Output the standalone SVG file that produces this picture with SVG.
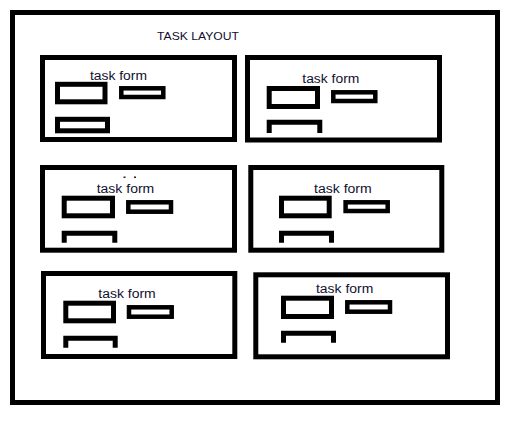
<svg xmlns="http://www.w3.org/2000/svg" width="527" height="424" viewBox="0 0 527 424">
<style>
.frame{fill:none;stroke:#000;stroke-width:5}
.box{fill:none;stroke:#000;stroke-width:5}
.fld{fill:none;stroke:#000;stroke-width:5}
.sfld{fill:none;stroke:#000;stroke-width:4.5}
.brk{fill:none;stroke:#000;stroke-width:5}
.lbl{font-family:"Liberation Sans",Arial,sans-serif;font-size:12.5px;fill:#101030}
.title{font-family:"Liberation Sans",Arial,sans-serif;font-size:11.5px;fill:#101030}
</style>
<rect width="527" height="424" fill="#fff"/>
<g id="layout">
<rect class="frame" x="12.5" y="12.5" width="485" height="390"/>
<text class="title" x="157" y="40.3" textLength="82" lengthAdjust="spacingAndGlyphs">TASK LAYOUT</text>
</g>
<g id="form1">
<rect class="box" x="42.5" y="57.5" width="192" height="82"/>
<text class="lbl" x="90" y="79.5" textLength="57" lengthAdjust="spacingAndGlyphs">task form</text>
<rect class="fld" x="57.5" y="84.3" width="47.5" height="17.5"/>
<rect class="sfld" x="121.3" y="88.3" width="42" height="8.7"/>
<rect class="fld" x="57.5" y="119.3" width="50" height="11.5"/>
</g>
<g id="form2">
<rect class="box" x="247.5" y="57.5" width="192" height="82.5"/>
<text class="lbl" x="302.3" y="83.3" textLength="57" lengthAdjust="spacingAndGlyphs">task form</text>
<rect class="fld" x="269.2" y="88.5" width="48.3" height="18"/>
<rect class="sfld" x="333.3" y="92.3" width="42" height="8.7"/>
<path class="brk" d="M269.2,133 V122.3 H319.8 V133"/>
</g>
<g id="form3">
<rect class="box" x="42.5" y="167.5" width="192" height="82.7"/>
<text class="lbl" x="96.7" y="193.3" textLength="57.6" lengthAdjust="spacingAndGlyphs">task form</text>
<rect fill="#222" x="123.5" y="176.5" width="2" height="1.5"/>
<rect fill="#222" x="134" y="176.5" width="2" height="1.5"/>
<rect class="fld" x="64.2" y="198.2" width="48.3" height="17.6"/>
<rect class="sfld" x="128.3" y="202.3" width="42.7" height="9.4"/>
<path class="brk" d="M64.2,242.7 V233.3 H114.8 V242.7"/>
</g>
<g id="form4">
<rect class="box" x="250.8" y="167.5" width="191" height="82.7"/>
<text class="lbl" x="314" y="193.3" textLength="57.7" lengthAdjust="spacingAndGlyphs">task form</text>
<rect class="fld" x="281.5" y="198.2" width="47.7" height="17.6"/>
<rect class="sfld" x="345.6" y="202.3" width="42.1" height="8.7"/>
<path class="brk" d="M281.5,242.7 V233.3 H331.5 V242.7"/>
</g>
<g id="form5">
<rect class="box" x="43.5" y="273.5" width="191.3" height="83"/>
<text class="lbl" x="98.3" y="298.3" textLength="57.4" lengthAdjust="spacingAndGlyphs">task form</text>
<rect class="fld" x="65.8" y="303.2" width="47.7" height="17.6"/>
<rect class="sfld" x="129" y="307.3" width="42.7" height="9.4"/>
<path class="brk" d="M65.8,347.7 V338.3 H115.2 V347.7"/>
</g>
<g id="form6">
<rect class="box" x="255.8" y="274.8" width="191.7" height="82"/>
<text class="lbl" x="316" y="293.3" textLength="57.3" lengthAdjust="spacingAndGlyphs">task form</text>
<rect class="fld" x="283.5" y="298.2" width="48" height="18.3"/>
<rect class="sfld" x="347.3" y="302.3" width="42.7" height="9.4"/>
<path class="brk" d="M283.5,342.7 V333.3 H333.5 V342.7"/>
</g>
<g id="connectors"></g>
</svg>
